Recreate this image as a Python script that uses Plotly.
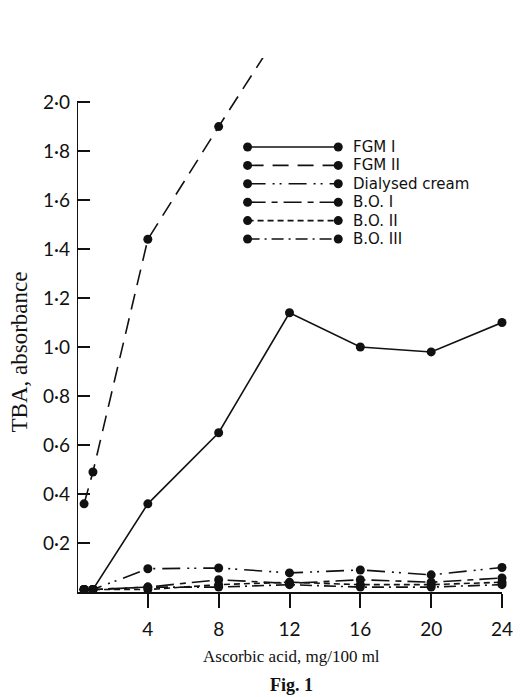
import plotly.graph_objects as go

# TBA absorbance against ascorbic acid concentration
ascorbic = [0.4, 0.9, 4, 8, 12, 16, 20, 24]
fgm_1 = [0.01, 0.01, 0.36, 0.65, 1.14, 1.00, 0.98, 1.10]
fgm_2_x = [0.4, 0.9, 4, 8, 12]
fgm_2 = [0.36, 0.49, 1.44, 1.90, 2.35]
dialysed_cream = [0.01, 0.01, 0.095, 0.098, 0.078, 0.09, 0.07, 0.10]
bo_1 = [0.01, 0.01, 0.02, 0.05, 0.035, 0.05, 0.04, 0.057]
bo_2 = [0.01, 0.01, 0.01, 0.03, 0.04, 0.03, 0.03, 0.04]
bo_3 = [0.01, 0.01, 0.02, 0.02, 0.03, 0.02, 0.02, 0.03]

series_names = ["FGM I", "FGM II", "Dialysed cream", "B.O. I", "B.O. II", "B.O. III"]
series_dash = [
    "solid",
    "16px,9px",
    "18px,7px,2px,5px,2px,7px",
    "18px,6px,6px,6px",
    "6px,4px",
    "12px,5px,2px,5px",
]
series_x = [ascorbic, fgm_2_x, ascorbic, ascorbic, ascorbic, ascorbic]
series_y = [fgm_1, fgm_2, dialysed_cream, bo_1, bo_2, bo_3]

x_ticks = [4, 8, 12, 16, 20, 24]
y_ticks = [0.2, 0.4, 0.6, 0.8, 1.0, 1.2, 1.4, 1.6, 1.8, 2.0]
y_tick_text = [f"{v:.1f}".replace(".", "\u00b7") for v in y_ticks]

W, H = 524, 697
ML, MR, MT, MB = 77, 11, 58, 105
PW, PH = W - ML - MR, H - MT - MB
SANS = "Lato, 'Open Sans', sans-serif"
KEY_FONT = "'DejaVu Sans', sans-serif"
SERIF = "'Liberation Serif', 'DejaVu Serif', serif"
INK = "#111111"


def fx(px):
    """Pixel column -> fraction of the plotting area width."""
    return (px - ML) / PW


def fy(py):
    """Pixel row -> fraction of the plotting area height."""
    return 1 - (py - MT) / PH


fig = go.Figure()

for name, dash, xs, ys in zip(series_names, series_dash, series_x, series_y):
    fig.add_trace(go.Scatter(
        x=xs, y=ys, mode="lines+markers", name=name,
        line=dict(color=INK, width=1.6, dash=dash),
        marker=dict(color=INK, size=9),
        cliponaxis=(name == "FGM II"),
        showlegend=False,
    ))

# Key: a sample line with a dot at each end, name to the right
key_left, key_right, key_text = 252, 345, 358
key_top, key_step = 147, 18.4
for i, (name, dash) in enumerate(zip(series_names, series_dash)):
    row = fy(key_top + i * key_step)
    fig.add_trace(go.Scatter(
        x=[fx(key_left), fx(key_right)], y=[row, row],
        xaxis="x2", yaxis="y2", mode="lines+markers",
        line=dict(color=INK, width=1.6, dash=dash),
        marker=dict(color=INK, size=9),
        cliponaxis=False, showlegend=False, hoverinfo="skip",
    ))
    fig.add_annotation(
        x=fx(key_text), y=row, xref="x2", yref="y2", text=name,
        showarrow=False, xanchor="left", yanchor="middle",
        font=dict(family=KEY_FONT, size=15, color=INK),
    )

# Vertical axis line stops at the top tick
fig.add_shape(type="line", x0=0, x1=0, y0=0, y1=2.0, xref="x", yref="y",
              line=dict(color=INK, width=2))

fig.add_annotation(x=fx(297), xref="paper", y=fy(656), yref="paper",
                   text="Ascorbic acid, mg/100 ml", showarrow=False,
                   xanchor="center", yanchor="middle",
                   font=dict(family=SERIF, size=17, color=INK))
fig.add_annotation(x=fx(297), xref="paper", y=fy(685), yref="paper",
                   text="<b>Fig. 1</b>", showarrow=False,
                   xanchor="center", yanchor="middle",
                   font=dict(family=SERIF, size=18, color=INK))
fig.add_annotation(x=fx(17), xref="paper", y=fy(352), yref="paper",
                   text="TBA, absorbance", textangle=-90, showarrow=False,
                   xanchor="center", yanchor="middle",
                   font=dict(family=SERIF, size=23, color=INK))

fig.update_layout(
    width=W, height=H,
    margin=dict(l=ML, r=MR, t=MT, b=MB),
    paper_bgcolor="white", plot_bgcolor="white",
    xaxis=dict(
        range=[0, 24], tickvals=x_ticks, ticktext=[str(v) for v in x_ticks],
        showline=True, linecolor=INK, linewidth=2,
        ticks="outside", ticklen=14, tickwidth=2, tickcolor=INK,
        showgrid=False, zeroline=False, ticklabelstandoff=5,
        ticklabeloverflow="allow",
        tickfont=dict(family=SANS, size=19, color=INK),
    ),
    yaxis=dict(
        range=[0, 2.18], tickvals=y_ticks, ticktext=y_tick_text,
        showline=False, ticks="inside", ticklen=13, tickwidth=2, tickcolor=INK,
        showgrid=False, zeroline=False, ticklabelstandoff=6,
        tickfont=dict(family=SANS, size=19, color=INK),
    ),
    xaxis2=dict(range=[0, 1], domain=[0, 1], overlaying="x", anchor="y2",
                visible=False, fixedrange=True),
    yaxis2=dict(range=[0, 1], domain=[0, 1], overlaying="y", anchor="x2",
                visible=False, fixedrange=True),
    showlegend=False,
)

fig.write_html("out.html")
